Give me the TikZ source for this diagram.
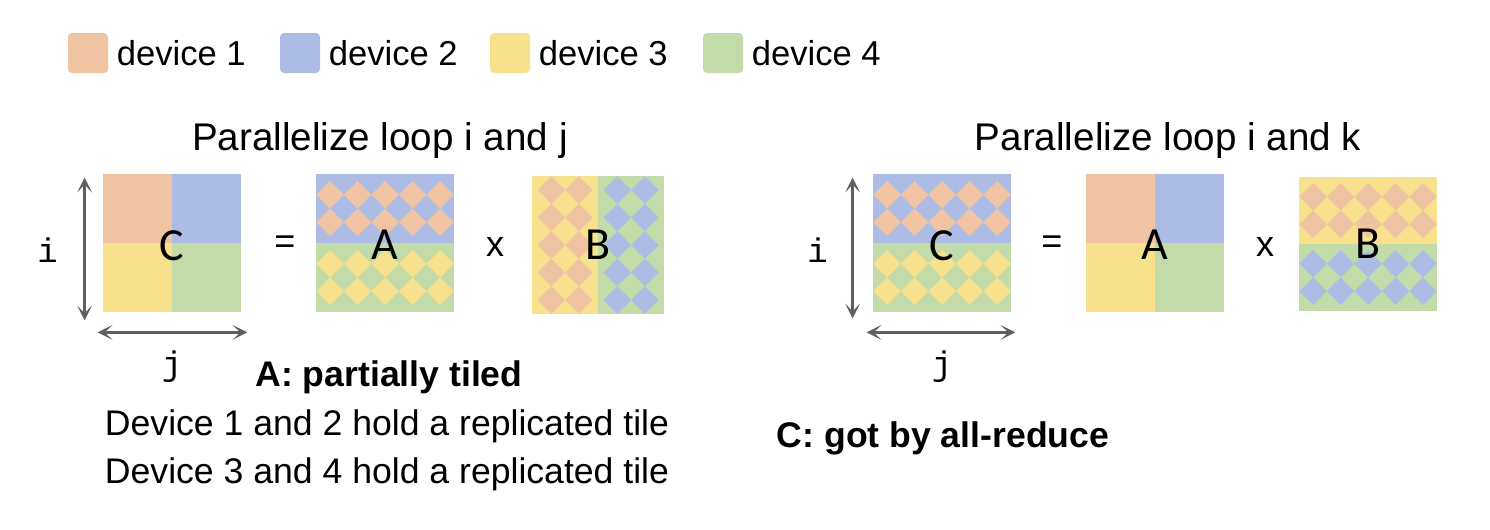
\documentclass[tikz,border=0pt]{standalone}
\usepackage{fontspec}
\setmainfont{Liberation Sans}
\setmonofont{Liberation Mono}
\newfontfamily\calfont{Carlito}
\usepackage{xcolor}
\usetikzlibrary{arrows.meta,positioning,calc}
\definecolor{dv1}{HTML}{F0C4A2}
\definecolor{dv2}{HTML}{ADBCE4}
\definecolor{dv3}{HTML}{F8E18D}
\definecolor{dv4}{HTML}{C2DBA9}
\definecolor{arrgray}{HTML}{5F5F5F}
% four device quadrants inside a matrix node
\newcommand{\qtile}[1]{%
  \fill[dv1] (#1.north west) rectangle (#1.center);
  \fill[dv2] (#1.north east) rectangle (#1.center);
  \fill[dv3] (#1.south west) rectangle (#1.center);
  \fill[dv4] (#1.south east) rectangle (#1.center);}
% replicated tile: #1,#2 corner, #3,#4 size, #5 background, #6 diamonds
\newcommand{\dtile}[6]{%
  \fill[#5] (#1,#2) rectangle ++(#3,#4);
  \pgfmathtruncatemacro{\dnx}{#3/27.5-1}%
  \pgfmathtruncatemacro{\dny}{#4/27.5-1}%
  \pgfmathsetmacro{\dox}{#1+(#3-\dnx*27.5)/2}%
  \pgfmathsetmacro{\doy}{#2+(#4-\dny*27.5)/2}%
  \begin{scope}
    \clip (#1,#2) rectangle ++(#3,#4);
    \foreach \i in {0,...,\dnx}
      \foreach \j in {0,...,\dny}
        \fill[#6] (\dox+\i*27.5,\doy+\j*27.5) +(-13.75,0) -- +(0,-13.75)
          -- +(13.75,0) -- +(0,13.75) -- cycle;
  \end{scope}}
\tikzset{
  swatch/.style={minimum width=20pt, minimum height=20pt, inner sep=0pt, rounded corners=2pt},
  legtxt/.style={inner sep=0pt, font=\fontsize{17.3}{20}\selectfont},
  ttl/.style={inner sep=0pt, anchor=base, font=\fontsize{19.3}{23}\selectfont},
  mat/.style={minimum width=69pt, minimum height=69pt, inner sep=0pt},
  mlabel/.style={inner sep=0pt, font=\calfont\fontsize{23}{27}\selectfont},
  op/.style={inner sep=0pt, font=\fontsize{18}{22}\selectfont},
  axlbl/.style={inner sep=0pt, font=\ttfamily\fontsize{17}{20}\selectfont},
  note/.style={inner sep=0pt, anchor=base, font=\fontsize{17.8}{21}\selectfont},
  dimarr/.style={arrgray, line width=1.2pt, <->, >={Stealth[length=7.5pt,width=7.5pt,inset=4pt]}},
}

\begin{document}
\begin{tikzpicture}[x=0.5pt, y=-0.5pt]
  \useasboundingbox (0,0) rectangle (1490,530);

  % legend
  \node[swatch, fill=dv1] (sw1) at (88,53) {};
  \node[legtxt, right=4pt of sw1] (lg1) {device 1};
  \node[swatch, fill=dv2] (sw2) at (300,53) {};
  \node[legtxt, right=4pt of sw2] (lg2) {device 2};
  \node[swatch, fill=dv3] (sw3) at (510,53) {};
  \node[legtxt, right=4pt of sw3] (lg3) {device 3};
  \node[swatch, fill=dv4] (sw4) at (723,53) {};
  \node[legtxt, right=4pt of sw4] (lg4) {device 4};

  % loop i and j
  \node[ttl] (ttlL) at (380,150) {Parallelize loop i and j};
  \node[mat] (cL) at (172,243) {};
  \node[mat] (aL) at (385,243) {};
  \node[mat, minimum width=66pt] (bL) at (598,245) {};
  \qtile{cL}
  \dtile{316}{174}{138}{69}{dv2}{dv1}
  \dtile{316}{243}{138}{69}{dv4}{dv3}
  \dtile{532}{176}{66}{138}{dv3}{dv1}
  \dtile{598}{176}{66}{138}{dv4}{dv2}
  \node[mlabel] (cLl) at ([yshift=-1.5pt]cL.center) {C};
  \node[mlabel] (aLl) at ([yshift=-1pt]aL.center) {A};
  \node[mlabel] (bLl) at (bL.center) {B};
  \node[op] (eqL) at (285,245) {=};
  \node[op] (xL) at (495,247) {x};
  \draw[dimarr] ([xshift=-9pt,yshift=-2pt]cL.north west) -- ([xshift=-9pt,yshift=-4pt]cL.south west);
  \draw[dimarr] ([xshift=-2.5pt,yshift=-10pt]cL.south west) -- ([xshift=3pt,yshift=-10pt]cL.south east);
  \node[axlbl] (iL) at ([xshift=-27.5pt,yshift=-3.5pt]cL.west) {i};
  \node[axlbl] (jL) at ([yshift=-27pt]cL.south) {j};
  \node[note, font=\bfseries\fontsize{17.8}{21}\selectfont] (noteA) at (389,386) {A: partially tiled};
  \node[note] (dev12) at (387,435) {Device 1 and 2 hold a replicated tile};
  \node[note] (dev34) at (387,483) {Device 3 and 4 hold a replicated tile};

  % loop i and k
  \node[ttl] (ttlR) at (1168,150) {Parallelize loop i and k};
  \node[mat] (cR) at (942,243) {};
  \node[mat] (aR) at (1155,243) {};
  \node[mat, minimum height=67pt] (bR) at (1368,244) {};
  \dtile{873}{174}{138}{69}{dv2}{dv1}
  \dtile{873}{243}{138}{69}{dv4}{dv3}
  \qtile{aR}
  \dtile{1299}{177}{138}{67}{dv3}{dv1}
  \dtile{1299}{244}{138}{67}{dv4}{dv2}
  \node[mlabel] (cRl) at ([yshift=-1.5pt]cR.center) {C};
  \node[mlabel] (aRl) at ([yshift=-1pt]aR.center) {A};
  \node[mlabel] (bRl) at (bR.center) {B};
  \node[op] (eqR) at (1052,245) {=};
  \node[op] (xR) at (1265,247) {x};
  \draw[dimarr] ([xshift=-10pt,yshift=-2pt]cR.north west) -- ([xshift=-10pt,yshift=-3pt]cR.south west);
  \draw[dimarr] ([xshift=-3pt,yshift=-10pt]cR.south west) -- ([xshift=2pt,yshift=-10pt]cR.south east);
  \node[axlbl] (iR) at ([xshift=-27.5pt,yshift=-3.5pt]cR.west) {i};
  \node[axlbl] (jR) at ([yshift=-27pt]cR.south) {j};
  \node[note, font=\bfseries\fontsize{17.8}{21}\selectfont] (noteC) at (943,447) {C: got by all-reduce};
\end{tikzpicture}
\end{document}
